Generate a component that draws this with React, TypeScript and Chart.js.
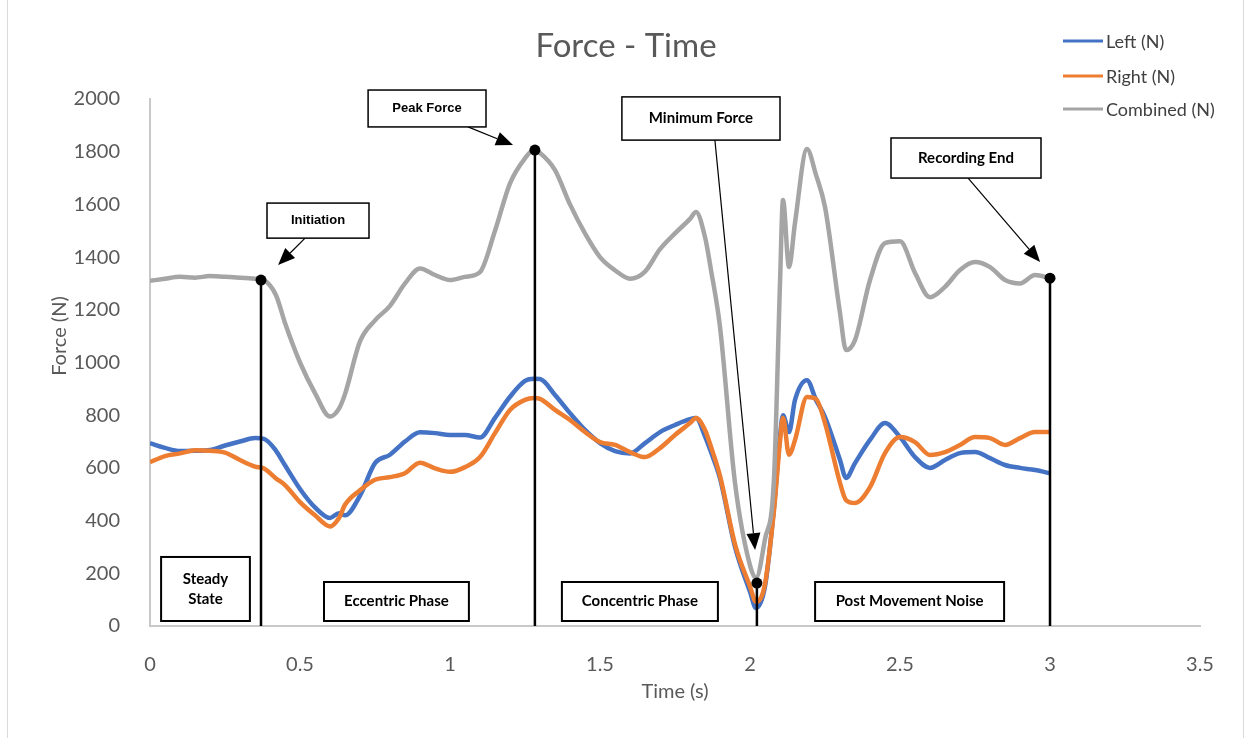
import React, { useEffect, useRef } from "react";
import { Chart, registerables } from "chart.js";

Chart.register(...registerables);

// ---- data ----
const timeS = [
  0, 0.05, 0.1, 0.15, 0.2, 0.25, 0.3, 0.35, 0.38, 0.42,
  0.45, 0.5, 0.55, 0.6, 0.63, 0.65, 0.7, 0.75, 0.8, 0.85,
  0.9, 0.95, 1.0, 1.05, 1.1, 1.15, 1.2, 1.25, 1.28, 1.3,
  1.35, 1.4, 1.45, 1.5, 1.55, 1.6, 1.65, 1.7, 1.75, 1.8,
  1.82, 1.85, 1.87, 1.9, 1.95, 2.0, 2.02, 2.05, 2.08, 2.1,
  2.11, 2.13, 2.15, 2.19, 2.22, 2.25, 2.3, 2.32, 2.35, 2.4,
  2.45, 2.5, 2.55, 2.6, 2.65, 2.7, 2.75, 2.8, 2.85, 2.9,
  2.95, 3.0,
];

const leftN = [
  694, 676, 664, 665, 668, 685, 700, 713, 710, 665,
  610, 520, 450, 410, 428, 420, 495, 618, 650, 700,
  735, 732, 725, 725, 715, 790, 870, 930, 938, 937,
  877, 808, 744, 694, 664, 655, 694, 736, 763, 785,
  789, 720, 660, 560, 300, 130, 68, 150, 450, 720,
  800, 736, 858, 933, 858, 793, 630, 562, 618, 706,
  770, 717, 641, 600, 630, 656, 660, 637, 611, 600,
  592, 580,
];

const rightN = [
  622, 645, 655, 667, 665, 658, 630, 605, 598, 560,
  535, 470, 420, 378, 410, 460, 515, 555, 565, 580,
  620, 598, 585, 603, 641, 732, 820, 858, 865, 862,
  820, 782, 736, 698, 687, 660, 641, 675, 725, 770,
  789, 744, 680, 570, 310, 150, 92, 160, 440, 700,
  790, 650, 706, 869, 862, 770, 543, 478, 467, 527,
  656, 717, 698, 649, 660, 687, 717, 713, 687, 713,
  736, 736,
];

const combinedN = [
  1310, 1318, 1325, 1322, 1328, 1325, 1322, 1318, 1312, 1255,
  1150, 1000, 884, 795, 825, 880, 1080, 1160, 1215, 1300,
  1357, 1332, 1313, 1325, 1343, 1500, 1680, 1775, 1806, 1795,
  1730, 1600, 1490, 1400, 1350, 1318, 1345, 1430, 1490, 1545,
  1571, 1476, 1351, 1135, 543, 230, 182, 330, 560, 1300,
  1617, 1362, 1530, 1810, 1712, 1590, 1188, 1047, 1085, 1313,
  1453, 1460, 1340, 1248, 1287, 1351, 1381, 1362, 1313, 1300,
  1332, 1320,
];

const seriesLabels = ["Left (N)", "Right (N)", "Combined (N)"];
const seriesColors = ["#4472C4", "#ED7D31", "#A5A5A5"];

const chartTitle = "Force - Time";
const xAxisTitle = "Time (s)";
const yAxisTitle = "Force (N)";

// key events: time (s) and force (N) of the marked points
const eventTimes = [0.37, 1.283, 2.023, 3.0];
const eventForces = [1313, 1806, 163, 1320];

// annotation call-outs (in data units)
const boxTexts = [
  ["Steady", "State"],
  ["Eccentric Phase"],
  ["Concentric Phase"],
  ["Post Movement Noise"],
  ["Initiation"],
  ["Peak Force"],
  ["Minimum Force"],
  ["Recording End"],
];
const boxTimeRanges = [
  [0.037, 0.333],
  [0.58, 1.063],
  [1.373, 1.893],
  [2.217, 2.847],
  [0.39, 0.73],
  [0.727, 1.12],
  [1.573, 2.1],
  [2.47, 2.97],
];
const boxForceRanges = [
  [262, 19],
  [167, 19],
  [167, 19],
  [167, 19],
  [1605, 1472],
  [2034, 1894],
  [2008, 1844],
  [1852, 1700],
];
const arrowFrom = [
  [0.517, 1472],
  [1.06, 1894],
  [1.883, 1844],
  [2.727, 1700],
];
const arrowTo = [
  [0.427, 1370],
  [1.21, 1825],
  [2.017, 288],
  [2.967, 1381],
];

const GREY_TEXT = "#595959";

const annotationPlugin = {
  id: "forceAnnotations",
  afterDatasetsDraw(chart: any) {
    const { ctx } = chart;
    const xs = chart.scales.x;
    const ys = chart.scales.y;
    const X = (v: number) => xs.getPixelForValue(v);
    const Y = (v: number) => ys.getPixelForValue(v);
    ctx.save();

    // event verticals + dots
    eventTimes.forEach((t, i) => {
      const px = X(t);
      const py = Y(eventForces[i]);
      ctx.strokeStyle = "#000";
      ctx.lineWidth = 2.5;
      ctx.beginPath();
      ctx.moveTo(px, py);
      ctx.lineTo(px, Y(0));
      ctx.stroke();
      ctx.fillStyle = "#000";
      ctx.beginPath();
      ctx.arc(px, py, 5.5, 0, Math.PI * 2);
      ctx.fill();
    });

    // arrows
    arrowFrom.forEach((from, i) => {
      const x0 = X(from[0]);
      const y0 = Y(from[1]);
      const x1 = X(arrowTo[i][0]);
      const y1 = Y(arrowTo[i][1]);
      const ang = Math.atan2(y1 - y0, x1 - x0);
      const headLen = 17;
      const headHalf = 7;
      const bx = x1 - headLen * Math.cos(ang);
      const by = y1 - headLen * Math.sin(ang);
      ctx.strokeStyle = "#000";
      ctx.lineWidth = 1.2;
      ctx.beginPath();
      ctx.moveTo(x0, y0);
      ctx.lineTo(bx, by);
      ctx.stroke();
      ctx.fillStyle = "#000";
      ctx.beginPath();
      ctx.moveTo(x1, y1);
      ctx.lineTo(bx + headHalf * Math.sin(ang), by - headHalf * Math.cos(ang));
      ctx.lineTo(bx - headHalf * Math.sin(ang), by + headHalf * Math.cos(ang));
      ctx.closePath();
      ctx.fill();
    });

    // boxes
    boxTexts.forEach((lines, i) => {
      const x0 = X(boxTimeRanges[i][0]);
      const x1 = X(boxTimeRanges[i][1]);
      const y0 = Y(boxForceRanges[i][0]);
      const y1 = Y(boxForceRanges[i][1]);
      const small = i === 4 || i === 5;
      ctx.fillStyle = "#fff";
      ctx.fillRect(x0, y0, x1 - x0, y1 - y0);
      ctx.strokeStyle = "#000";
      ctx.lineWidth = i < 4 ? 2 : 1.5;
      ctx.strokeRect(x0, y0, x1 - x0, y1 - y0);
      ctx.fillStyle = "#000";
      ctx.font = small ? "bold 13px 'Liberation Sans', Arial, sans-serif" : "bold 15px Lato, sans-serif";
      ctx.textAlign = "center";
      ctx.textBaseline = "middle";
      const cx = (x0 + x1) / 2;
      const cy = (y0 + y1) / 2;
      const lh = 20;
      lines.forEach((ln, k) => {
        ctx.fillText(ln, cx, cy + (k - (lines.length - 1) / 2) * lh);
      });
    });

    // legend (top right)
    const legendY = [41, 76, 109];
    chart.data.datasets.forEach((ds: any, i: number) => {
      ctx.strokeStyle = ds.borderColor;
      ctx.lineWidth = 3;
      ctx.beginPath();
      ctx.moveTo(1063, legendY[i]);
      ctx.lineTo(1103, legendY[i]);
      ctx.stroke();
      ctx.fillStyle = "#404040";
      ctx.font = "18px Lato, sans-serif";
      ctx.textAlign = "left";
      ctx.textBaseline = "middle";
      ctx.fillText(ds.label, 1106, legendY[i] + 1);
    });

    // chart title
    ctx.fillStyle = GREY_TEXT;
    ctx.font = "33px Lato, sans-serif";
    ctx.textAlign = "center";
    ctx.textBaseline = "middle";
    ctx.fillText(chartTitle, 626, 46);

    // y axis title
    ctx.save();
    ctx.translate(60, 336);
    ctx.rotate(-Math.PI / 2);
    ctx.font = "20px Lato, sans-serif";
    ctx.fillText(yAxisTitle, 0, 0);
    ctx.restore();

    // chart frame sides
    ctx.strokeStyle = "#d9d9d9";
    ctx.lineWidth = 1;
    ctx.beginPath();
    ctx.moveTo(7.5, 0);
    ctx.lineTo(7.5, 738);
    ctx.moveTo(1243.5, 0);
    ctx.lineTo(1243.5, 738);
    ctx.stroke();

    ctx.restore();
  },
};

export default function App() {
  const canvasRef = useRef<HTMLCanvasElement | null>(null);

  useEffect(() => {
    if (!canvasRef.current) return;
    const mk = (vals: number[]) => timeS.map((t, i) => ({ x: t, y: vals[i] }));
    const line = (i: number, vals: number[], order: number) => ({
      label: seriesLabels[i],
      data: mk(vals),
      borderColor: seriesColors[i],
      backgroundColor: seriesColors[i],
      borderWidth: 4.5,
      pointRadius: 0,
      cubicInterpolationMode: "monotone" as const,
      order,
    });
    const chart = new Chart(canvasRef.current, {
      type: "line",
      data: {
        datasets: [line(0, leftN, 3), line(1, rightN, 2), line(2, combinedN, 1)],
      },
      options: {
        animation: false,
        responsive: true,
        maintainAspectRatio: false,
        layout: { padding: { left: 0, right: 44, top: 99, bottom: 0 } },
        plugins: {
          legend: { display: false },
          tooltip: { enabled: false },
          title: { display: false },
        },
        scales: {
          x: {
            type: "linear",
            min: 0,
            max: 3.5,
            grid: { display: false },
            border: { display: true, color: "#c9c9c9", width: 2 },
            ticks: {
              stepSize: 0.5,
              color: GREY_TEXT,
              font: { family: "Lato", size: 20, lineHeight: 1.2 },
              padding: 19,
              callback: (v: any) => String(Number(v)),
            },
            title: {
              display: true,
              text: xAxisTitle,
              color: GREY_TEXT,
              font: { family: "Lato", size: 20, lineHeight: 1.2 },
              padding: { top: 0, bottom: 34 },
            },
            afterFit: (s: any) => {
              s.height = 112;
            },
          },
          y: {
            type: "linear",
            min: 0,
            max: 2000,
            grid: { display: false },
            border: { display: true, color: "#c9c9c9", width: 2 },
            ticks: {
              stepSize: 200,
              color: GREY_TEXT,
              font: { family: "Lato", size: 20, lineHeight: 1.2 },
              padding: 22,
              callback: (v: any) => String(Number(v)),
            },
            title: { display: false },
            afterFit: (s: any) => {
              s.width = 150;
            },
          },
        },
      },
      plugins: [annotationPlugin],
    });
    return () => chart.destroy();
  }, []);

  return (
    <div style={{ position: "fixed", left: 0, top: 0, width: 1244, height: 738, background: "#fff" }}>
      <canvas ref={canvasRef} />
    </div>
  );
}
